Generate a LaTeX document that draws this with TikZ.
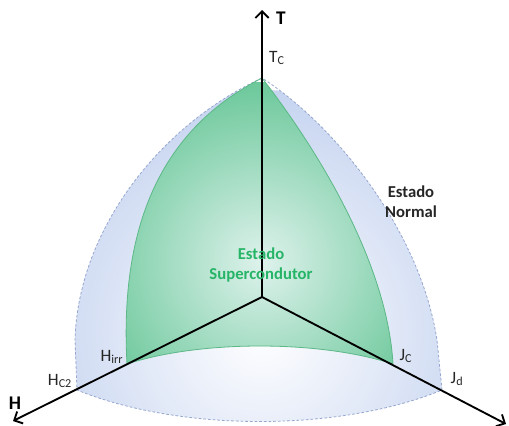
\documentclass[tikz,border=0pt]{standalone}
\usepackage{fontspec}
\setmainfont{Carlito}
\usetikzlibrary{arrows.meta}
\definecolor{azulN}{RGB}{198,212,240}
\definecolor{bordaN}{RGB}{150,166,205}
\definecolor{verdeS}{RGB}{108,200,155}
\definecolor{verdeC}{RGB}{222,242,236}
\definecolor{bordaS}{RGB}{92,184,134}
\definecolor{verdeT}{RGB}{38,180,102}
% contornos das duas regioes
\newcommand{\contornoNormal}{(Tc) .. controls (160,125) and (78,230) .. (75,340) -- (Hc2)
  .. controls (180,432) and (340,432) .. (Jd) -- (437,340) .. controls (420,230) and (335,125) .. (Tc)}
\newcommand{\contornoSuper}{(Tc) .. controls (180,120) and (118,200) .. (Hirr)
  .. controls (200,340) and (320,340) .. (Jc) .. controls (387,260) and (314,145) .. (Tc)}
\begin{document}
\begin{tikzpicture}[x=0.75pt, y=-0.75pt,
  eixo/.style={line width=1.4pt, -{Straight Barb[length=5pt,width=10pt]}},
  rotulo/.style={text=black!85, font=\fontsize{13}{15}\selectfont},
  titulo/.style={font=\fontsize{14.5}{16}\selectfont\bfseries},
  estado/.style={align=center, font=\fontsize{12.5}{15}\selectfont\bfseries}]
\useasboundingbox (0,0) rectangle (509,425);
\coordinate (O) at (262,297);
\coordinate (Ttip) at (262,10);
\coordinate (Htip) at (13,421);
\coordinate (Jtip) at (506,424);
\coordinate (Tc) at (262,78);
\coordinate (Hirr) at (127,364);
\coordinate (Hc2) at (77,390);
\coordinate (Jc) at (393,364);
\coordinate (Jd) at (442,390);

\begin{scope}
\clip \contornoNormal;
\shade[inner color=white, outer color=azulN] (262,330) circle (240);
\end{scope}
\draw[bordaN, line width=0.6pt, dash pattern=on 2pt off 1.5pt] \contornoNormal;
\begin{scope}
\clip \contornoSuper;
\shade[inner color=verdeC, outer color=verdeS] (262,262) circle (180);
\end{scope}
\draw[bordaS, line width=0.6pt] \contornoSuper;

\draw[eixo] (O) -- (Ttip);
\draw[eixo] (O) -- (Htip);
\draw[eixo] (O) -- (Jtip);

\node[titulo] (T) at (281,18) {T};
\node[titulo] (H) at (15,403) {H};
\node[rotulo] (lTc) at (277,58) {T\textsubscript{C}};
\node[rotulo] (lHirr) at (112,357) {H\textsubscript{irr}};
\node[rotulo] (lHc2) at (60,381) {H\textsubscript{C2}};
\node[rotulo] (lJc) at (406,356) {J\textsubscript{C}};
\node[rotulo] (lJd) at (457,379) {J\textsubscript{d}};
\node[estado, text=black!85] (normal) at (411,202) {Estado\\Normal};
\node[estado, text=verdeT] (super) at (261,265) {Estado\\Supercondutor};
\end{tikzpicture}
\end{document}
